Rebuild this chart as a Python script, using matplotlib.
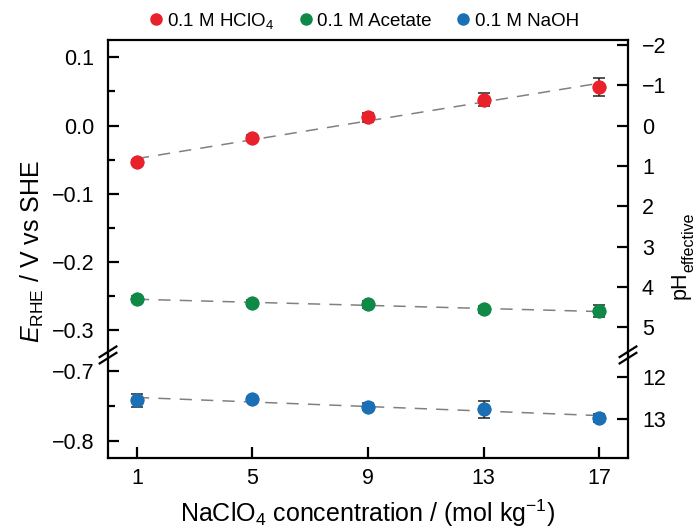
import matplotlib
matplotlib.use("Agg")
import matplotlib.pyplot as plt
from matplotlib.lines import Line2D
import numpy as np

plt.rcParams['font.family'] = ['Liberation Sans', 'DejaVu Sans']
plt.rcParams['mathtext.fontset'] = 'custom'
plt.rcParams['mathtext.it'] = 'Liberation Sans:italic'
plt.rcParams['mathtext.rm'] = 'Liberation Sans'

conc = [1, 5, 9, 13, 17]
e_hclo4 = [-0.054, -0.018, 0.012, 0.038, 0.056]
err_hclo4 = [0.003, 0.004, 0.007, 0.009, 0.013]
e_acetate = [-0.254, -0.260, -0.262, -0.269, -0.272]
err_acetate = [0.005, 0.005, 0.005, 0.005, 0.009]
e_naoh = [-0.742, -0.740, -0.751, -0.755, -0.767]
err_naoh = [0.009, 0.003, 0.005, 0.012, 0.006]

labels = ['0.1 M HClO$_4$', '0.1 M Acetate', '0.1 M NaOH']
colors = ['#e8212b', '#0e8a46', '#1a6fb5']

NERNST = 0.0591
top_lim = (-0.336, 0.125)
bot_lim = (-0.825, -0.677)

fig = plt.figure(figsize=(6.97, 5.29), dpi=100)
left, right = 0.155, 0.901
bottom, brk, top = 0.134, 0.329, 0.924
ax_top = fig.add_axes([left, brk, right - left, top - brk])
ax_bot = fig.add_axes([left, bottom, right - left, brk - bottom], sharex=ax_top)

for ax in (ax_top, ax_bot):
    for s in ax.spines.values():
        s.set_linewidth(1.6)
ax_top.spines['bottom'].set_visible(False)
ax_bot.spines['top'].set_visible(False)


def draw(ax, y, err, c):
    fit = np.polyfit(conc, y, 1)
    xs = np.array([1, 17])
    ax.plot(xs, np.polyval(fit, xs), ls=(0, (8, 6)), color='#808080', lw=1.1, zorder=1)
    ax.errorbar(conc, y, yerr=err, fmt='o', color=c, ms=9, ecolor='#222222',
                elinewidth=1.1, capsize=4.5, capthick=1.1, zorder=2)
    ax.plot(conc, y, 'o', color=c, ms=9, zorder=3)


draw(ax_top, e_hclo4, err_hclo4, colors[0])
draw(ax_top, e_acetate, err_acetate, colors[1])
draw(ax_bot, e_naoh, err_naoh, colors[2])

ax_top.set_xlim(0, 18)
ax_top.set_ylim(*top_lim)
ax_bot.set_ylim(*bot_lim)

ax_top.set_yticks([-0.3, -0.2, -0.1, 0.0, 0.1])
ax_top.set_yticks(np.arange(-0.3, 0.11, 0.05), minor=True)
ax_top.set_yticklabels(['\u22120.3', '\u22120.2', '\u22120.1', '0.0', '0.1'])
ax_bot.set_yticks([-0.8, -0.7])
ax_bot.set_yticks([-0.8, -0.75, -0.7], minor=True)
ax_bot.set_yticklabels(['\u22120.8', '\u22120.7'])
ax_bot.set_xticks(conc)

ax_top.tick_params(axis='x', which='both', bottom=False, labelbottom=False)
for ax in (ax_top, ax_bot):
    ax.tick_params(axis='y', which='major', direction='in', length=8, width=1.6,
                   labelsize=15.5, pad=10)
    ax.tick_params(axis='y', which='minor', direction='in', length=5, width=1.6)
ax_bot.tick_params(axis='x', direction='in', length=8, width=1.6, labelsize=15.5, pad=7)

# right pH axes
pt = ax_top.twinx()
pt.set_ylim(-top_lim[0] / NERNST, -top_lim[1] / NERNST)
pt.set_yticks(range(-2, 6))
pt.set_yticklabels(['\u22122', '\u22121', '0', '1', '2', '3', '4', '5'])
pb = ax_bot.twinx()
pb.set_ylim(-bot_lim[0] / NERNST, -bot_lim[1] / NERNST)
pb.set_yticks([12, 13])
for ax in (pt, pb):
    for s in ax.spines.values():
        s.set_visible(False)
    ax.tick_params(axis='y', direction='in', length=8, width=1.6, labelsize=15.5, pad=10)

ax_top.set_ylabel('$E_{\\mathrm{RHE}}$ / V vs SHE', fontsize=18)
ax_top.yaxis.set_label_coords(-0.12, 0.33)
fig.text(0.976, 0.461, 'pH', rotation=90, fontsize=15.5, ha='center', va='center')
fig.text(0.9885, 0.543, 'effective', rotation=90, fontsize=11.5, ha='center', va='center')
ax_bot.set_xlabel('NaClO$_4$ concentration / (mol kg$^{-1}$)', fontsize=18, labelpad=6)

# break marks
for xf in (left, right):
    for dy in (-0.006, 0.006):
        fig.add_artist(Line2D([xf - 0.012, xf + 0.012], [brk + dy - 0.010, brk + dy + 0.010],
                              color='black', lw=1.6, transform=fig.transFigure))

handles = [Line2D([], [], marker='o', ls='', color=c, ms=8) for c in colors]
fig.legend(handles, labels, loc='upper center', bbox_to_anchor=(0.52, 1.012), ncol=3,
           frameon=False, fontsize=13.5, handletextpad=0.1, columnspacing=1.2,
           handlelength=1.0)

fig.savefig('out.png', dpi=100)
